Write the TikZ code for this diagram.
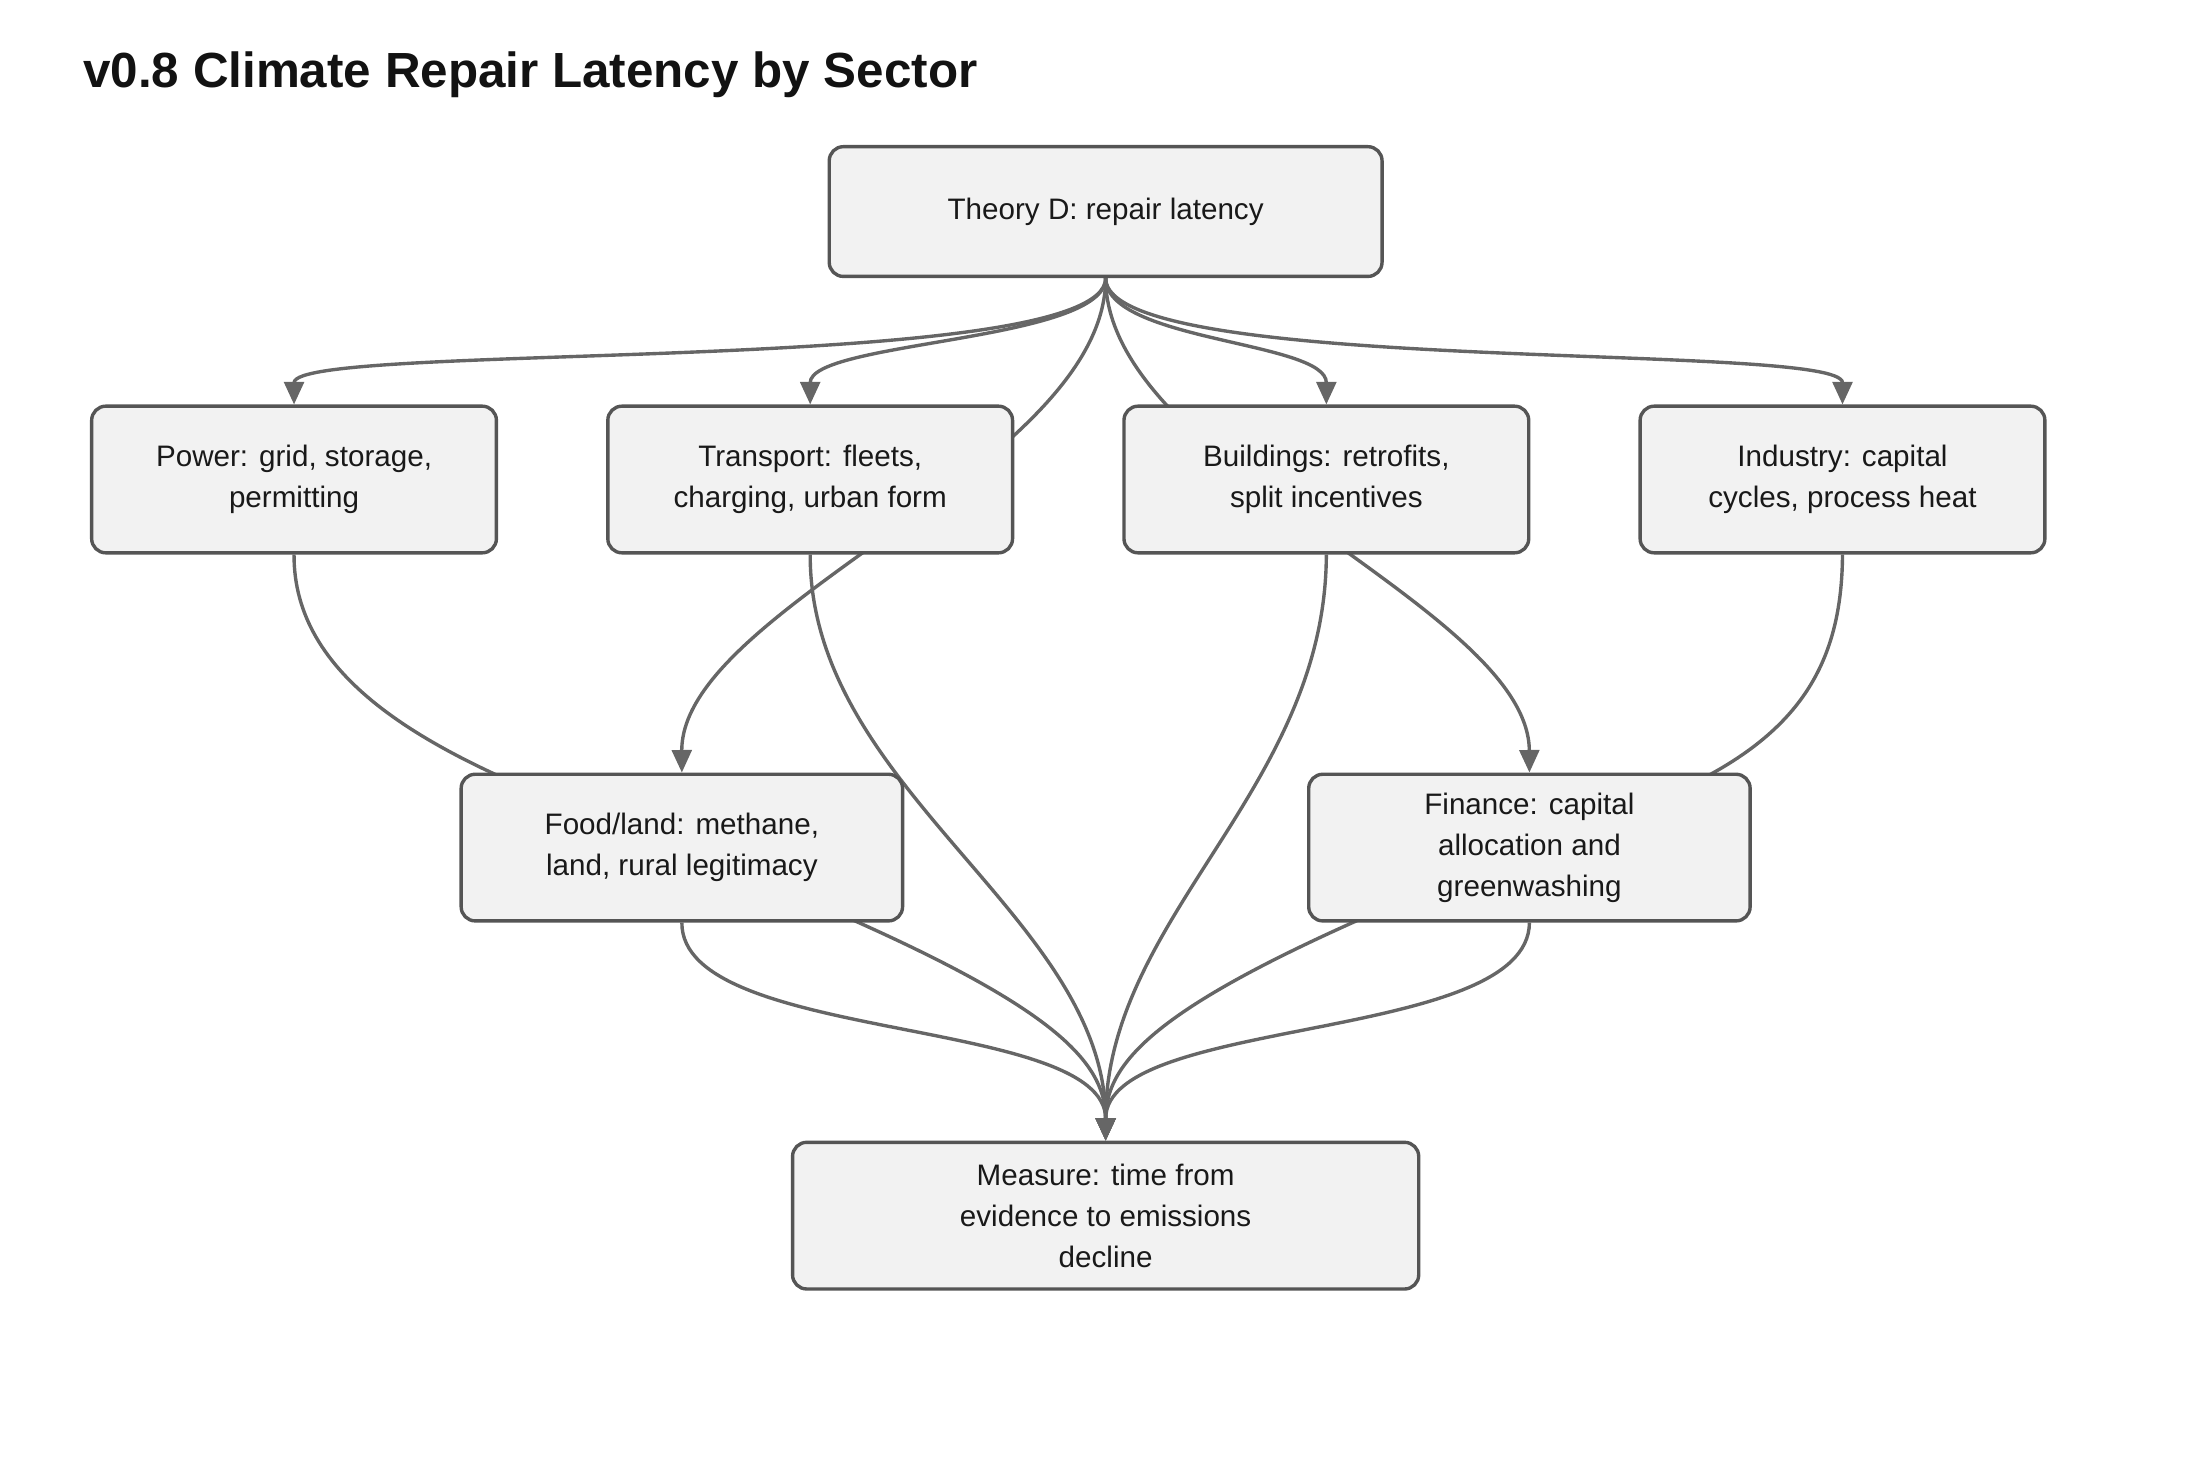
\documentclass[tikz,border=0pt]{standalone}
\usepackage{fontspec}
\setmainfont{Liberation Sans}
\usetikzlibrary{arrows.meta,backgrounds}

\definecolor{boxfill}{HTML}{F2F2F2}
\definecolor{boxline}{HTML}{555555}
\definecolor{edgeline}{HTML}{666666}

\tikzset{
  sector/.style={draw=boxline,line width=1.2pt,fill=boxfill,rounded corners=5pt,
    align=center,font=\fontsize{10.5}{14.5}\selectfont,text=black!90},
  flow/.style={draw=edgeline,line width=1.2pt,-{Triangle[length=8pt,width=7pt]}},
}

\begin{document}
\begin{tikzpicture}[x=0.5pt,y=-0.5pt]
\useasboundingbox (0,0) rectangle (1560,1040);

\node[anchor=west,font=\bfseries\fontsize{17.5}{20}\selectfont,text=black!93] (title) at (52,53) {v0.8 Climate Repair Latency by Sector};

% top and sectors
\node[sector,minimum width=196pt,minimum height=46pt] (theory) at (784,150) {Theory D: repair latency};
\node[sector,minimum width=143.5pt,minimum height=52pt] (power) at (208.5,340) {Power: grid, storage,\\permitting};
\node[sector,minimum width=143.5pt,minimum height=52pt] (transport) at (574.5,340) {Transport: fleets,\\charging, urban form};
\node[sector,minimum width=143.5pt,minimum height=52pt] (buildings) at (940.5,340) {Buildings: retrofits,\\split incentives};
\node[sector,minimum width=143.5pt,minimum height=52pt] (industry) at (1306.5,340) {Industry: capital\\cycles, process heat};

% middle
\node[sector,minimum width=156.5pt,minimum height=52pt] (food) at (483.5,601) {Food/land: methane,\\land, rural legitimacy};
\node[sector,minimum width=156.5pt,minimum height=52pt] (finance) at (1084.5,601) {Finance: capital\\allocation and\\greenwashing};

% bottom
\node[sector,minimum width=222pt,minimum height=52pt] (measure) at (784,862) {Measure: time from\\evidence to emissions\\decline};

\begin{scope}[on background layer]
\draw[flow] (theory.south) .. controls +(0,70) and +(0,-45) .. (power.north);
\draw[flow] (theory.south) .. controls +(0,45) and +(0,-45) .. (transport.north);
\draw[flow] (theory.south) .. controls +(0,45) and +(0,-45) .. (buildings.north);
\draw[flow] (theory.south) .. controls +(0,70) and +(0,-45) .. (industry.north);
\draw[flow] (theory.south) .. controls (784,330) and (483,430) .. (food.north);
\draw[flow] (theory.south) .. controls (784,330) and (1084,430) .. (finance.north);

\draw[flow] (power.south) .. controls (208,480) and (300,530) .. (400,570)
  .. controls (720,690) and (784,740) .. (measure.north);
\draw[flow] (industry.south) .. controls (1306,480) and (1268,530) .. (1168,570)
  .. controls (848,690) and (784,740) .. (measure.north);
\draw[flow] (transport.south) .. controls (574,560) and (784,650) .. (measure.north);
\draw[flow] (buildings.south) .. controls (940,560) and (784,650) .. (measure.north);
\draw[flow] (food.south) .. controls (483,740) and (784,720) .. (measure.north);
\draw[flow] (finance.south) .. controls (1084,740) and (784,720) .. (measure.north);
\end{scope}
\end{tikzpicture}
\end{document}
